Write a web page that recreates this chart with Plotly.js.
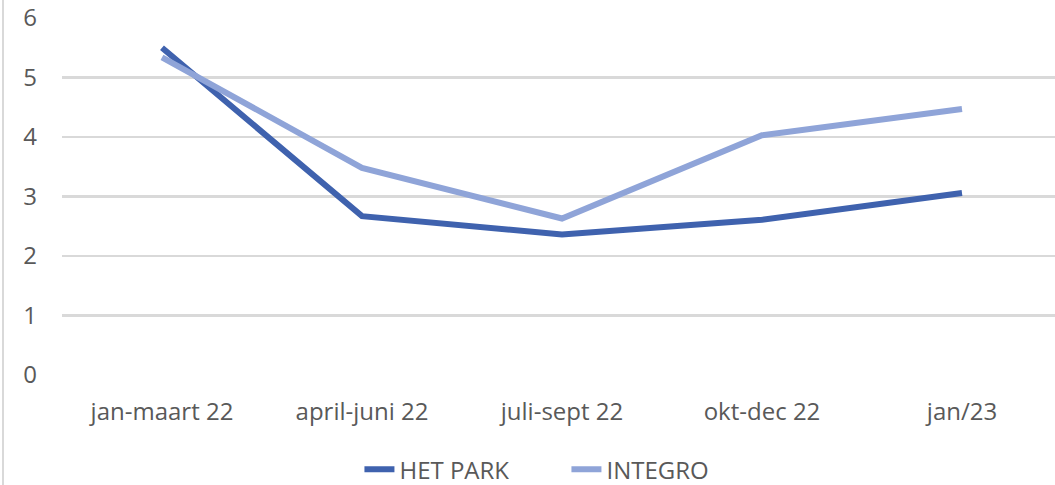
<!DOCTYPE html>
<html>
<head>
<meta charset="utf-8">
<script src="https://cdn.plot.ly/plotly-3.0.1.min.js"></script>
<style>
  html, body { margin: 0; padding: 0; background: #fff; }
  #chart { width: 1055px; height: 485px; }
</style>
</head>
<body>
<div id="chart"></div>
<script>
const categories = ["jan-maart 22", "april-juni 22", "juli-sept 22", "okt-dec 22", "jan/23"];
const hetPark = [5.50, 2.67, 2.36, 2.61, 3.06];
const integro = [5.34, 3.48, 2.63, 4.03, 4.47];
const yTicks = [0, 1, 2, 3, 4, 5, 6];

const data = [
  { x: categories, y: hetPark, name: "HET PARK", type: "scatter", mode: "lines",
    line: { color: "#3F62AE", width: 6 } },
  { x: categories, y: integro, name: "INTEGRO", type: "scatter", mode: "lines",
    line: { color: "#8FA4D8", width: 6 } }
];

const layout = {
  width: 1055, height: 485,
  margin: { l: 62, r: 0, t: 18, b: 110, autoexpand: false },
  paper_bgcolor: "#fff", plot_bgcolor: "#fff",
  font: { family: "Open Sans, sans-serif", size: 24, color: "#595959" },
  showlegend: true,
  legend: { orientation: "h", x: 0.508, xanchor: "center", y: -0.265, yanchor: "middle",
            font: { size: 24, color: "#595959" }, entrywidth: 162, tracegroupgap: 0 },
  xaxis: { type: "category", range: [-0.5, 4.465], showgrid: false, zeroline: false,
           showline: false, ticks: "", ticklabelstandoff: 20, fixedrange: true },
  yaxis: { range: [0, 6], tickvals: yTicks, showgrid: true, gridcolor: "#D9D9D9", gridwidth: 2.5,
           zeroline: false, showline: false, ticks: "", ticklabelstandoff: 24, fixedrange: true },
  shapes: [
    { type: "line", xref: "paper", yref: "paper", x0: -59/993, x1: -59/993, y0: -1, y1: 2,
      line: { color: "#D9D9D9", width: 2 } }
  ]
};

Plotly.newPlot("chart", data, layout, { displayModeBar: false, staticPlot: true });
</script>
</body>
</html>
